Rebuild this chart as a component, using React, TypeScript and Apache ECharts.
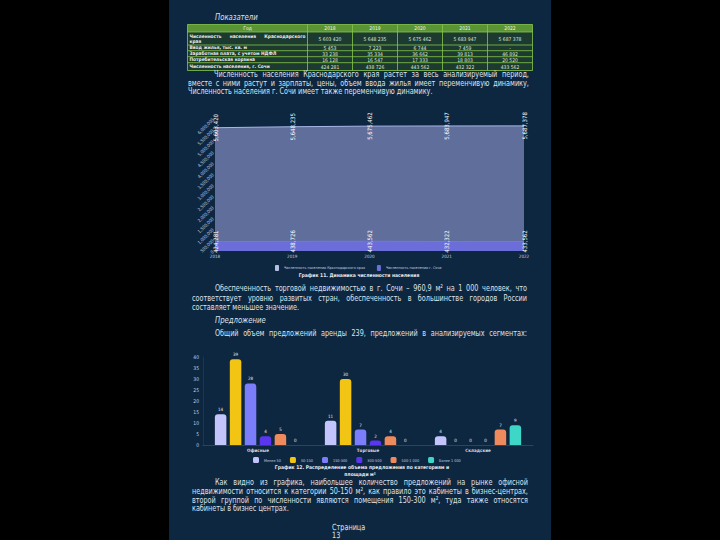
import React, { useEffect, useRef } from "react";
import * as echarts from "echarts";

// ---------- data ----------
const years = ["2018", "2019", "2020", "2021", "2022"];
const krasnodarPop = [5603420, 5648235, 5675462, 5683947, 5687378];
const sochiPop = [424281, 438726, 443562, 432322, 433562];
const housing = ["5 453", "7 223", "6 744", "7 459", "-"];
const salary = ["33 238", "35 334", "36 662", "39 813", "46 892"];
const basket = ["16 128", "16 547", "17 333", "18 803", "20 520"];
const rowTitles = [
  "Численность населения Краснодарского края",
  "Ввод жилья, тыс. кв. м",
  "Заработная плата, с учетом НДФЛ",
  "Потребительская корзина",
  "Численность населения, г. Сочи",
];
const popSeriesNames = ["Численность населения Краснодарского края", "Численность населения г. Сочи"];

const segments = ["Офисные", "Торговые", "Складские"];
const sizeGroups = ["Менее 50", "50-150", "150-300", "300-500", "500-1 000", "Более 1 000"];
const less50 = [14, 11, 4];
const s50to150 = [39, 30, 0];
const s150to300 = [28, 7, 0];
const s300to500 = [4, 2, 0];
const s500to1000 = [5, 4, 7];
const more1000 = [0, 0, 9];
const sizeValues = [less50, s50to150, s150to300, s300to500, s500to1000, more1000];
const sizeColors = ["#c4c4fd", "#f2c414", "#7c7dfb", "#5a37ee", "#ef8a5c", "#3ed6c6"];

const para1 = [
  "Численность населения Краснодарского края растет за весь анализируемый период,",
  "вместе с ними растут и зарплаты, цены, объем ввода жилья имеет переменчивую динамику,",
  "Численность населения г. Сочи имеет также переменчивую динамику.",
];
const para2 = [
  "Обеспеченность торговой недвижимостью в г. Сочи – 960,9 м² на 1 000 человек, что",
  "соответствует уровню развитых стран, обеспеченность в большинстве городов России",
  "составляет меньшее значение.",
];
const para4 = ["Общий объем предложений аренды 239, предложений в анализируемых сегментах:"];
const para5 = [
  "Как видно из графика, наибольшее количество предложений на рынке офисной",
  "недвижимости относится к категории 50-150 м², как правило это кабинеты в бизнес-центрах,",
  "второй группой по численности являются помещения 150-300 м², туда также относятся",
  "кабинеты в бизнес центрах.",
];

const FAM = "Liberation Sans Narrow, DejaVu Sans Condensed, sans-serif";
const TXT = "#dde2ea";
const PAGE = "#0e2741";
const SX = 0.8; // horizontal squeeze to mimic the narrow document font

const fmtComma = (n: number) => String(n).replace(/\B(?=(\d{3})+(?!\d))/g, ",");
const fmtSpace = (n: number) => String(n).replace(/\B(?=(\d{3})+(?!\d))/g, " ");

function measure(t: string, font: string) {
  const el = new (echarts as any).graphic.Text({ style: { text: t, font } });
  const w = el.getBoundingRect().width;
  return w || t.length * 4;
}

function txt(text: string, x: number, y: number, font: string, fill = TXT, align = "left", sx = 1) {
  return {
    type: "text",
    x,
    y,
    scaleX: sx,
    silent: true,
    style: { text, font, fill, textAlign: align, align, textVerticalAlign: "middle", verticalAlign: "middle" },
  };
}

function justify(text: string, x0: number, x1: number, y: number, font: string, fill = TXT, sx = SX) {
  const words = text.split(" ");
  const widths = words.map((w) => measure(w, font) * sx);
  const total = widths.reduce((a, b) => a + b, 0);
  const gap = words.length > 1 ? (x1 - x0 - total) / (words.length - 1) : 0;
  if (gap < 0.8) return [txt(text, x0, y, font, fill, "left", sx)];
  let x = x0;
  return words.map((w, i) => {
    const el = txt(w, x, y, font, fill, "left", sx);
    x += widths[i] + gap;
    return el;
  });
}

function paragraph(lines: string[], firstX: number, leftX: number, rightX: number, y0: number, dy: number, font: string) {
  const els: any[] = [];
  lines.forEach((l, i) => {
    const x0 = i === 0 ? firstX : leftX;
    const y = y0 + i * dy;
    if (i === lines.length - 1 && lines.length > 1) els.push(txt(l, x0, y, font, TXT, "left", SX));
    else els.push(...justify(l, x0, rightX, y, font));
  });
  return els;
}

function buildTable() {
  const els: any[] = [];
  const cols = [187.5, 307.5, 352.5, 397.5, 442.5, 487.5, 532.5];
  const rows = [24.5, 32, 45, 50.7, 56.7, 62.7, 70.5];
  const border = "#86c84a";
  els.push({ type: "rect", silent: true, shape: { x: cols[0], y: rows[0], width: cols[6] - cols[0], height: rows[1] - rows[0] }, style: { fill: "#5b9435" } });
  els.push({ type: "rect", silent: true, shape: { x: cols[0], y: rows[1], width: cols[6] - cols[0], height: rows[6] - rows[1] }, style: { fill: "#1c3a30" } });
  rows.forEach((y) => els.push({ type: "line", silent: true, shape: { x1: cols[0], y1: y, x2: cols[6], y2: y }, style: { stroke: border, lineWidth: 0.8 } }));
  cols.forEach((x) => els.push({ type: "line", silent: true, shape: { x1: x, y1: rows[0], x2: x, y2: rows[6] }, style: { stroke: border, lineWidth: 0.8 } }));
  const hf = `5px ${FAM}`;
  const bf = `bold 4.8px ${FAM}`;
  const nf = `5px ${FAM}`;
  els.push(txt("Год", (cols[0] + cols[1]) / 2, (rows[0] + rows[1]) / 2, hf, "#f2f6ee", "center"));
  years.forEach((yr, i) => els.push(txt(yr, (cols[i + 1] + cols[i + 2]) / 2, (rows[0] + rows[1]) / 2, hf, "#f2f6ee", "center")));
  els.push(...justify("Численность населения Краснодарского", cols[0] + 2, cols[1] - 2, 36, bf, "#e8ece8", 1));
  els.push(txt("края", cols[0] + 2, 41.5, bf, "#e8ece8"));
  for (let r = 1; r < rowTitles.length; r++) {
    els.push(txt(rowTitles[r], cols[0] + 2, (rows[r + 1] + rows[r + 2]) / 2, bf, "#e8ece8"));
  }
  const rowVals = [krasnodarPop.map(fmtSpace), housing, salary, basket, sochiPop.map(fmtSpace)];
  rowVals.forEach((vals, r) => {
    const cy = (rows[r + 1] + rows[r + 2]) / 2;
    vals.forEach((v, i) => els.push(txt(v, (cols[i + 1] + cols[i + 2]) / 2, cy, nf, "#dfe6df", "center")));
  });
  return els;
}

export default function App() {
  const ref = useRef<HTMLDivElement>(null);
  useEffect(() => {
    if (!ref.current) return;
    const chart = echarts.init(ref.current, undefined, { renderer: "svg" });
    const pf = `9px ${FAM}`;
    const itf = `italic 9px ${FAM}`;
    const capf = `bold 5px ${FAM}`;
    const graphic: any[] = [
      { type: "rect", silent: true, z: -10, shape: { x: 169, y: 0, width: 382, height: 540 }, style: { fill: PAGE } },
      txt("Показатели", 215, 17, itf, TXT, "left", 0.85),
      ...buildTable(),
      ...paragraph(para1, 214, 188, 529, 73.5, 8.8, pf),
      txt("График 11. Динамика численности населения", 359, 275.3, capf, "#e6e9ef", "center"),
      ...paragraph(para2, 215, 192, 527, 288, 9.3, pf),
      txt("Предложение", 215, 320, itf, TXT, "left", 0.85),
      ...justify(para4[0], 215, 527, 332.7, pf),
      txt("График 12. Распределение объема предложения по категориям и", 362, 466.7, capf, "#e6e9ef", "center"),
      txt("площади м²", 360, 473.5, capf, "#e6e9ef", "center"),
      ...paragraph(para5, 215, 192, 528, 481.7, 8.8, pf),
      txt("Страница", 332, 527, `8.5px ${FAM}`, TXT, "left", 0.85),
      txt("13", 332, 535.5, `8.5px ${FAM}`, TXT, "left", 0.85),
    ];

    const axisColor = "#c6cee0";
    const option: any = {
      animation: false,
      backgroundColor: "#000000",
      graphic,
      grid: [
        { left: 215, right: 196, top: 119, bottom: 289 },
        { left: 203, right: 187, top: 357, bottom: 95 },
      ],
      legend: [
        {
          data: popSeriesNames,
          top: 265,
          left: 275,
          padding: 0,
          itemWidth: 4,
          itemHeight: 6,
          itemGap: 12,
          icon: "roundRect",
          textStyle: { fontSize: 3.7, color: axisColor, fontFamily: FAM },
        },
        {
          data: sizeGroups,
          top: 457,
          left: 253,
          padding: 0,
          itemWidth: 6,
          itemHeight: 6,
          itemGap: 9,
          icon: "roundRect",
          textStyle: { fontSize: 3.8, color: axisColor, fontFamily: FAM },
        },
      ],
      xAxis: [
        {
          gridIndex: 0,
          type: "category",
          data: years,
          boundaryGap: false,
          axisLine: { show: false },
          axisTick: { show: false },
          axisLabel: { fontSize: 4.5, color: axisColor, margin: 3, fontFamily: FAM },
        },
        {
          gridIndex: 1,
          type: "category",
          data: segments,
          axisLine: { lineStyle: { color: "#2c455f", width: 1 } },
          axisTick: { show: false },
          axisLabel: { fontSize: 4.5, color: "#d6dbe5", fontWeight: "bold", margin: 3, fontFamily: FAM },
        },
      ],
      yAxis: [
        {
          gridIndex: 0,
          type: "value",
          min: 0,
          max: 6000000,
          interval: 500000,
          splitLine: { show: false },
          axisLine: { show: false },
          axisLabel: { rotate: 45, fontSize: 4.5, color: axisColor, margin: 2, fontFamily: FAM, formatter: (v: number) => fmtComma(v) },
        },
        {
          gridIndex: 1,
          type: "value",
          min: 0,
          max: 40,
          interval: 5,
          splitLine: { show: false },
          axisLine: { show: true, lineStyle: { color: "#1d3550" } },
          axisLabel: { fontSize: 5, color: axisColor, margin: 4, fontFamily: FAM },
        },
      ],
      series: [
        {
          type: "line",
          name: popSeriesNames[0],
          xAxisIndex: 0,
          yAxisIndex: 0,
          data: krasnodarPop,
          symbol: "circle",
          symbolSize: 0.5,
          lineStyle: { color: "#a9b7e8", width: 1 },
          itemStyle: { color: "#b4bfe6" },
          areaStyle: { color: "#5f6e9b", opacity: 1 },
          label: { show: true, position: "inside", rotate: 90, fontSize: 6, color: "#ffffff", fontFamily: FAM, formatter: (p: any) => fmtComma(p.value) },
          z: 2,
        },
        {
          type: "line",
          name: popSeriesNames[1],
          xAxisIndex: 0,
          yAxisIndex: 0,
          data: sochiPop,
          symbol: "circle",
          symbolSize: 0.5,
          lineStyle: { color: "#7477df", width: 1 },
          itemStyle: { color: "#6c6fd8" },
          areaStyle: { color: "#6b6ed8", opacity: 1 },
          label: { show: true, position: "inside", rotate: 90, fontSize: 6, color: "#ffffff", fontFamily: FAM, formatter: (p: any) => fmtComma(p.value) },
          z: 3,
        },
        ...sizeGroups.map((g, i) => ({
          type: "bar",
          name: g,
          xAxisIndex: 1,
          yAxisIndex: 1,
          data: sizeValues[i],
          barWidth: 11.5,
          barGap: "30%",
          itemStyle: { color: sizeColors[i], borderRadius: [3, 3, 0, 0] },
          label: { show: true, position: "top", distance: 2, fontSize: 4.5, color: "#e6e9f0", fontFamily: FAM },
        })),
      ],
    };
    chart.setOption(option);
    return () => chart.dispose();
  }, []);
  return <div ref={ref} style={{ position: "absolute", left: 0, top: 0, width: 720, height: 540 }} />;
}
